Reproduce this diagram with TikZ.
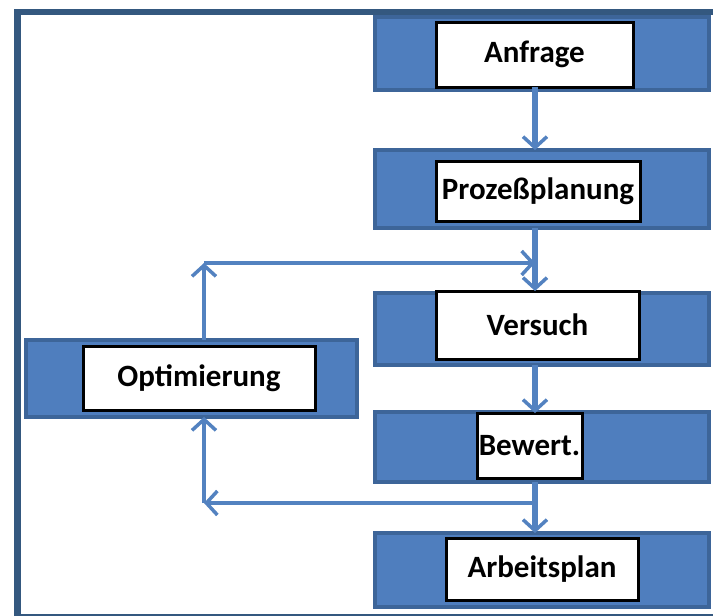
\documentclass[tikz,border=0pt]{standalone}
\usepackage{fontspec}
\setmainfont{Carlito}
\usetikzlibrary{arrows.meta}
\definecolor{framec}{HTML}{34587F}
\definecolor{boxedge}{HTML}{3D6599}
\definecolor{boxfill}{HTML}{4F7EBE}
\definecolor{linec}{HTML}{5382C0}
\tikzset{
  outerbox/.style={draw=boxedge, line width=3.5pt, fill=boxfill, inner sep=0pt, outer sep=0pt},
  innerbox/.style={draw=black, line width=3pt, fill=white, inner sep=0pt, outer sep=0pt,
    font=\fontsize{31}{33}\selectfont\bfseries, text=black},
  conn/.style={draw=linec, line width=5.5pt, -{Straight Barb[length=11pt,width=24pt,line width=3.5pt]}},
  thinconn/.style={conn, line width=4.5pt}
}
\begin{document}
\begin{tikzpicture}[x=1pt,y=-1pt]
\useasboundingbox (0,0) rectangle (713,616);
% frame
\fill[framec] (14,9) rectangle (713,15);
\fill[framec] (14,9) rectangle (21,616);
\fill[framec] (14,614) rectangle (713,616);
% blocks
\node[outerbox, minimum width=334pt, minimum height=73pt] (A) at (542,53.5) {};
\node[innerbox, minimum width=197pt, minimum height=65pt] (a) at (534.5,54.5) {Anfrage};
\node[outerbox, minimum width=334pt, minimum height=78pt] (P) at (542,189) {};
\node[innerbox, minimum width=204pt, minimum height=60pt] (p) at (538,191) {Prozeßplanung};
\node[outerbox, minimum width=334pt, minimum height=72pt] (V) at (542,329) {};
\node[innerbox, minimum width=203pt, minimum height=68pt] (v) at (537.5,325) {Versuch};
\node[outerbox, minimum width=331pt, minimum height=77pt] (O) at (191.5,378.5) {};
\node[innerbox, minimum width=232pt, minimum height=64pt] (o) at (199,378) {Optimierung};
\node[outerbox, minimum width=334pt, minimum height=70pt] (B) at (542,447) {};
\node[innerbox, minimum width=105pt, minimum height=65pt] (b) at (529.5,445.5) {Bewert.};
\node[outerbox, minimum width=334pt, minimum height=74pt] (R) at (542,570) {};
\node[innerbox, minimum width=192pt, minimum height=62pt] (r) at (542,569) {Arbeitsplan};
% connector helpers
\coordinate (mx) at (535,0);
\coordinate (c1) at (204,263);
\coordinate (c2) at (204,503);
\coordinate (j2) at (535,503);
% main flow
\draw[conn] (mx |- a.south) -- (mx |- P.north);
\draw[conn] (mx |- P.south) -- (mx |- v.north);
\draw[conn] (mx |- V.south) -- (mx |- b.north);
\draw[conn] (mx |- B.south) -- (mx |- R.north);
% feedback loops
\draw[thinconn] (c1 |- O.north) -- (c1);
\draw[thinconn] (c1) -- (mx |- c1);
\draw[thinconn] (j2) -- (c2);
\draw[thinconn] (c2) -- (c2 |- O.south);
\end{tikzpicture}
\end{document}
